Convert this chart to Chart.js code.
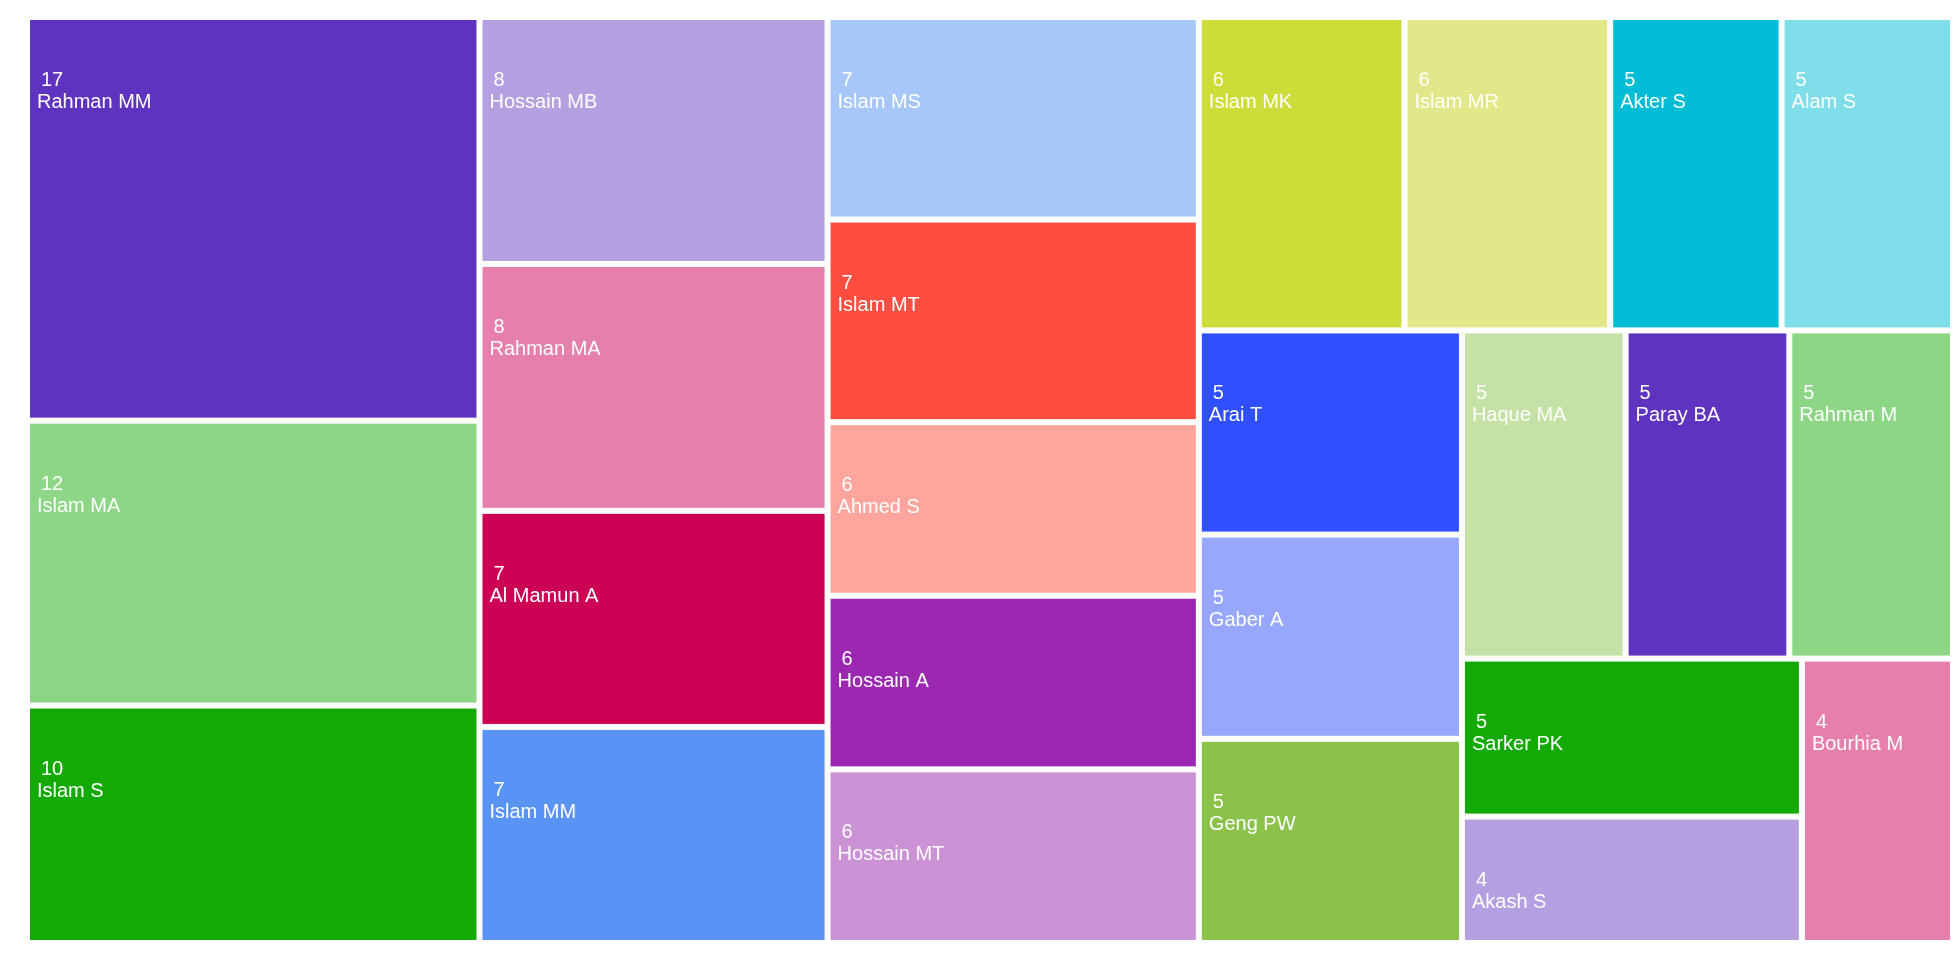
<!DOCTYPE html>
<html>
<head>
<meta charset="utf-8">
<script src="https://cdn.jsdelivr.net/npm/chart.js@4.4.1/dist/chart.umd.min.js"></script>
<style>
  html, body { margin: 0; padding: 0; background: #ffffff; }
  #c { display: block; }
</style>
</head>
<body>
<canvas id="c" width="1960" height="960"></canvas>
<script>
// ---- data ----
const authors = [
  'Rahman MM', 'Islam MA', 'Islam S', 'Hossain MB', 'Rahman MA', 'Al Mamun A', 'Islam MM',
  'Islam MS', 'Islam MT', 'Ahmed S', 'Hossain A', 'Hossain MT', 'Islam MK', 'Islam MR',
  'Akter S', 'Alam S', 'Arai T', 'Gaber A', 'Geng PW', 'Haque MA', 'Paray BA', 'Rahman M',
  'Sarker PK', 'Akash S', 'Bourhia M'
];
const publications = [17, 12, 10, 8, 8, 7, 7, 7, 7, 6, 6, 6, 6, 6, 5, 5, 5, 5, 5, 5, 5, 5, 5, 4, 4];

// ---- style ----
const palette = [
  '#5e33bf', '#8cd686', '#14aa05', '#b4a0e0', '#e67fab', '#cc0055', '#5994f5',
  '#a8c7f9', '#ff4e40', '#ffa59e', '#9c27b0', '#cb93d6', '#cedc3a', '#e2e88a',
  '#00bcd5', '#80deeb', '#3050ff', '#97a7fd', '#8bc34a', '#c6e1a6'
];

// ---- squarified layout (golden-ratio target) ----
function worst(row, fixed, ratio) {
  let aMax = 0, aMin = Infinity;
  for (const n of row.items) {
    if (n.area > aMax) aMax = n.area;
    if (n.area < aMin) aMin = n.area;
  }
  const sq = row.area * row.area;
  const f = fixed * fixed * ratio;
  return sq ? Math.max(f * aMax / sq, sq / (f * aMin)) : Infinity;
}
function positionRow(row, fixed, rect, half, flush, out) {
  const i0 = fixed === rect.width ? 0 : 1, i1 = 1 - i0;
  const xy = ['x', 'y'], wh = ['width', 'height'];
  let last = rect[xy[i0]];
  let other = fixed ? row.area / fixed : 0;
  if (flush || other > rect[wh[i1]]) other = rect[wh[i1]];
  row.items.forEach((node, k) => {
    const step = other ? node.area / other : 0;
    const L = {};
    const wh1 = L[wh[i1]] = Math.max(other - 2 * half, 0);
    const remain = rect[xy[i0]] + rect[wh[i0]] - last;
    const mod = (k === row.items.length - 1 || remain < step) ? remain : step;
    const wh0 = L[wh[i0]] = Math.max(mod - 2 * half, 0);
    L[xy[i1]] = rect[xy[i1]] + Math.min(half, wh1 / 2);
    L[xy[i0]] = last + Math.min(half, wh0 / 2);
    last += mod;
    out[node.index] = L;
  });
  rect[xy[i1]] += other;
  rect[wh[i1]] -= other;
}
function squarify(values, width, height, half, ratio) {
  const total = values.reduce((a, b) => a + b, 0);
  const unit = width * height / total;
  const nodes = values.map((v, i) => ({ index: i, area: v * unit }))
    .sort((a, b) => b.area - a.area);
  const rect = { x: 0, y: 0, width, height };
  const out = new Array(values.length);
  let fixed = Math.min(width, height), best = Infinity;
  const row = { items: [], area: 0 };
  for (let i = 0; i < nodes.length;) {
    const n = nodes[i];
    row.items.push(n); row.area += n.area;
    const score = worst(row, fixed, ratio);
    if (score <= best) { i++; best = score; }
    else {
      row.area -= row.items.pop().area;
      positionRow(row, fixed, rect, half, false, out);
      fixed = Math.min(rect.width, rect.height);
      row.items = []; row.area = 0; best = Infinity;
    }
  }
  if (row.items.length) positionRow(row, fixed, rect, half, true, out);
  return out;
}

// ---- Chart.js element + controller ----
class TreemapCell extends Chart.Element {
  static id = 'treemapCell';
  static defaults = { backgroundColor: '#000000', borderWidth: 0 };
  draw(ctx) {
    const { x, y, width, height, options } = this;
    ctx.save();
    ctx.fillStyle = options.backgroundColor;
    ctx.fillRect(x, y, width, height);
    ctx.restore();
  }
  inRange(mx, my) {
    return mx >= this.x && mx <= this.x + this.width && my >= this.y && my <= this.y + this.height;
  }
  inXRange(mx) { return mx >= this.x && mx <= this.x + this.width; }
  inYRange(my) { return my >= this.y && my <= this.y + this.height; }
  getCenterPoint() { return { x: this.x + this.width / 2, y: this.y + this.height / 2 }; }
  tooltipPosition() { return this.getCenterPoint(); }
}

class TreemapController extends Chart.DatasetController {
  static id = 'treemap';
  static defaults = { dataElementType: 'treemapCell', datasetElementType: false };
  static overrides = {
    scales: {
      x: { type: 'linear', display: false, min: 0, max: 1 },
      y: { type: 'linear', display: false, min: 0, max: 1, reverse: true }
    }
  };
  parse() {
    const meta = this._cachedMeta;
    meta._parsed = this.getDataset().data.map((v, i) => ({ x: i, y: v }));
  }
  getMinMax(scale) {
    return { min: scale.options.min ?? 0, max: scale.options.max ?? 1 };
  }
  update(mode) {
    const meta = this._cachedMeta;
    this.updateElements(meta.data, 0, meta.data.length, mode);
  }
  updateElements(cells, start, count, mode) {
    const { xScale, yScale } = this._cachedMeta;
    if (!this.chart.chartArea || !xScale || !yScale) return;
    const ds = this.getDataset();
    const W = Math.abs(xScale.getPixelForValue(xScale.max) - xScale.getPixelForValue(xScale.min));
    const H = Math.abs(yScale.getPixelForValue(yScale.max) - yScale.getPixelForValue(yScale.min));
    const layout = squarify(ds.data, W, H, (ds.spacing || 0) / 2, ds.squareRatio || 1);
    const xr = xScale.max - xScale.min, yr = yScale.max - yScale.min;
    const colors = ds.backgroundColor;
    for (let i = start; i < start + count; i++) {
      const r = layout[i];
      const left = xScale.getPixelForValue(xScale.min + r.x / W * xr);
      const right = xScale.getPixelForValue(xScale.min + (r.x + r.width) / W * xr);
      const top = yScale.getPixelForValue(yScale.min + r.y / H * yr);
      const bottom = yScale.getPixelForValue(yScale.min + (r.y + r.height) / H * yr);
      Object.assign(cells[i], {
        x: Math.min(left, right), y: Math.min(top, bottom),
        width: Math.abs(right - left), height: Math.abs(bottom - top),
        options: { backgroundColor: colors[i % colors.length] }
      });
    }
  }
  draw() {
    const ctx = this._ctx;
    const meta = this._cachedMeta;
    const ds = this.getDataset();
    const labels = this.chart.data.labels;
    meta.data.forEach(el => el.draw(ctx));
    const lab = ds.cellLabels;
    ctx.save();
    ctx.fillStyle = lab.color;
    ctx.font = lab.font;
    ctx.textAlign = 'left';
    ctx.textBaseline = 'alphabetic';
    meta.data.forEach((el, i) => {
      ctx.fillText(String(ds.data[i]), el.x + lab.valueX, el.y + lab.valueY);
      ctx.fillText(labels[i], el.x + lab.nameX, el.y + lab.nameY);
    });
    ctx.restore();
  }
}

Chart.register(TreemapCell, TreemapController);

new Chart(document.getElementById('c'), {
  type: 'treemap',
  data: {
    labels: authors,
    datasets: [{
      data: publications,
      backgroundColor: palette,
      spacing: 6,
      squareRatio: 0.5 * (1 + Math.sqrt(5)),
      cellLabels: {
        color: '#ffffff',
        font: '20px "Liberation Sans", Arial, sans-serif',
        valueX: 11, valueY: 66,
        nameX: 7, nameY: 88
      }
    }]
  },
  options: {
    responsive: false,
    animation: false,
    events: [],
    layout: { padding: { left: 27, right: 7, top: 17, bottom: 17 } },
    scales: {
      x: { type: 'linear', display: false, min: 0, max: 1 },
      y: { type: 'linear', display: false, min: 0, max: 1, reverse: true }
    },
    plugins: {
      legend: { display: false, labels: { generateLabels: () => [] } },
      tooltip: { enabled: false },
      colors: { enabled: false }
    }
  }
});
</script>
</body>
</html>
